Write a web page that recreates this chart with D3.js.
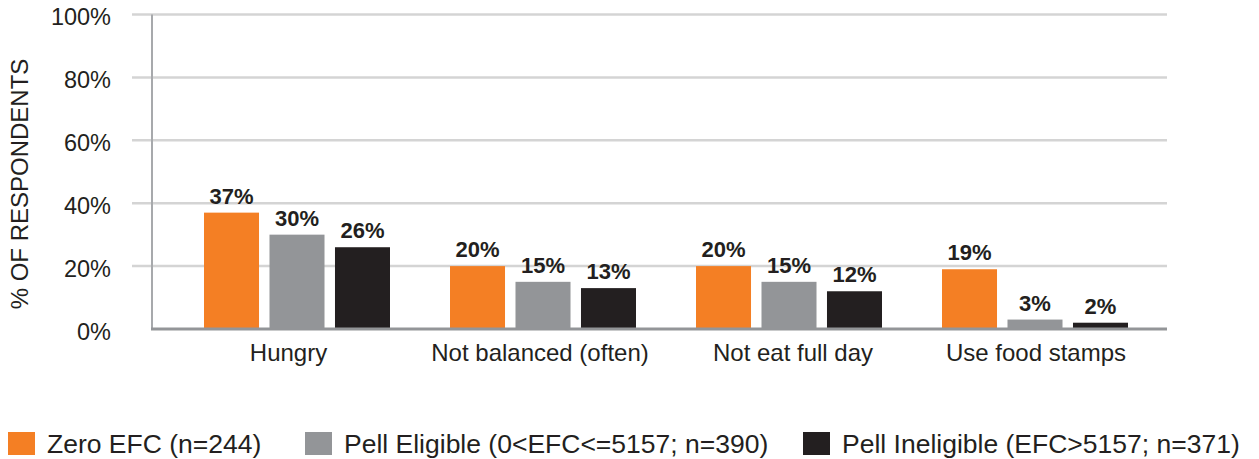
<!DOCTYPE html>
<html><head><meta charset="utf-8">
<script src="https://cdn.jsdelivr.net/npm/d3@7"></script>
<style>
html,body{margin:0;padding:0;background:#fff;}
svg{display:block;font-family:"Liberation Sans",Arial,sans-serif;}
</style></head>
<body>
<svg id="chart" width="1259" height="459"></svg>
<script>
const categories = ["Hungry", "Not balanced (often)", "Not eat full day", "Use food stamps"];
const seriesNames = ["Zero EFC (n=244)", "Pell Eligible (0<EFC<=5157; n=390)", "Pell Ineligible (EFC>5157; n=371)"];
const zeroEFC = [37, 20, 20, 19];
const pellEligible = [30, 15, 15, 3];
const pellIneligible = [26, 13, 12, 2];
const yTicks = [0, 20, 40, 60, 80, 100];
const colors = ["#f47f24", "#939598", "#231f20"];

const seriesValues = [zeroEFC, pellEligible, pellIneligible];
const svg = d3.select("#chart");

const y = d3.scaleLinear().domain([0, 100]).range([329, 14.5]);
const x0 = d3.scaleBand().domain(categories).range([174, 1158]);
const groupW = 186;
const x1 = d3.scaleBand().domain(d3.range(3)).range([0, groupW]).paddingInner(0.16);

// gridlines
svg.append("g").selectAll("line").data(yTicks.filter(d => d > 0)).join("line")
  .attr("x1", 132).attr("x2", 1167)
  .attr("y1", d => y(d)).attr("y2", d => y(d))
  .attr("stroke", "#d4d4d4").attr("stroke-width", 2.5);

// y tick labels
svg.append("g").selectAll("text").data(yTicks).join("text")
  .attr("x", 111).attr("y", d => y(d)).attr("dy", "0.45em")
  .attr("text-anchor", "end").attr("font-size", 23.5).attr("fill", "#231f20")
  .text(d => d + "%");

// y axis line
svg.append("line").attr("x1", 152).attr("x2", 152).attr("y1", y(100)).attr("y2", y(0))
  .attr("stroke", "#a7a9ac").attr("stroke-width", 2);

// y axis title
svg.append("text").attr("transform", "translate(28," + 184 + ") rotate(-90)")
  .attr("text-anchor", "middle").attr("font-size", 24).attr("fill", "#231f20")
  .text("% OF RESPONDENTS");

// bars
const groups = svg.append("g").selectAll("g").data(categories).join("g")
  .attr("transform", d => "translate(" + (x0(d) + (x0.bandwidth() - groupW) / 2) + ",0)");

groups.selectAll("rect").data((c, i) => seriesValues.map((s, k) => ({k, v: s[i]}))).join("rect")
  .attr("x", d => x1(d.k)).attr("width", x1.bandwidth())
  .attr("y", d => y(d.v)).attr("height", d => y(0) - y(d.v))
  .attr("fill", d => colors[d.k]);

groups.selectAll("text.val").data((c, i) => seriesValues.map((s, k) => ({k, v: s[i]}))).join("text")
  .attr("class", "val")
  .attr("x", d => x1(d.k) + x1.bandwidth() / 2).attr("y", d => y(d.v) - 9)
  .attr("text-anchor", "middle").attr("font-size", 22).attr("font-weight", "bold").attr("fill", "#231f20")
  .text(d => d.v + "%");

// x baseline
svg.append("line").attr("x1", 151).attr("x2", 1167).attr("y1", y(0)).attr("y2", y(0))
  .attr("stroke", "#939598").attr("stroke-width", 3);

// category labels (small hand-placed nudges as in the original layout)
const labelNudge = [-8.5, -3, 4, 1];
svg.append("g").selectAll("text").data(categories).join("text")
  .attr("x", (d, i) => x0(d) + x0.bandwidth() / 2 + labelNudge[i]).attr("y", 361)
  .attr("text-anchor", "middle").attr("font-size", 24).attr("fill", "#231f20")
  .text(d => d);

// legend
const legendX = [8, 305, 803];
const leg = svg.append("g").selectAll("g").data(seriesNames).join("g")
  .attr("transform", (d, i) => "translate(" + legendX[i] + ",0)");
leg.append("rect").attr("x", 0).attr("y", 432).attr("width", 27).attr("height", 23)
  .attr("fill", (d, i) => colors[i]);
leg.append("text").attr("x", 39).attr("y", 453).attr("font-size", 26.5).attr("fill", "#231f20")
  .text(d => d);
</script>
</body></html>
